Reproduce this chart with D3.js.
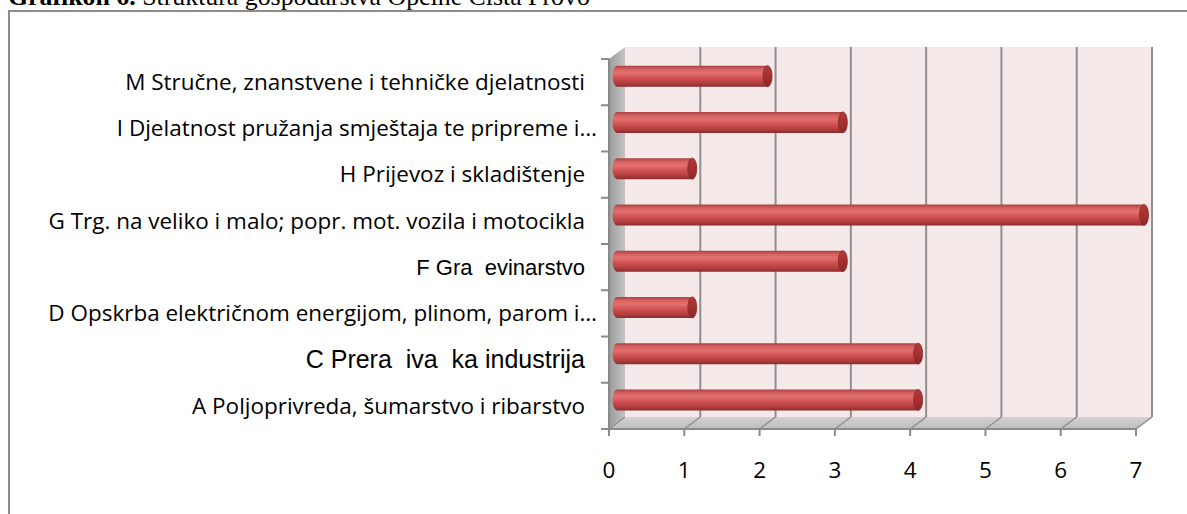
<!DOCTYPE html>
<html>
<head>
    <script src="https://d3js.org/d3.v7.min.js"></script>
    <style>
        body { margin: 0; background: #fff; }
        svg { display: block; }
        .cat { font-family: 'Open Sans', sans-serif; font-size: 21px; fill: #000; white-space: pre; }
        .cat.arial-f { font-family: 'Liberation Sans', Arial, sans-serif; font-size: 22px; }
        .cat.arial-c { font-family: 'Liberation Sans', Arial, sans-serif; font-size: 25px; }
        .tick-label { font-family: 'Open Sans', sans-serif; font-size: 21px; fill: #000; }
        .title { font-family: 'Liberation Serif', serif; font-size: 25px; fill: #000; }
    </style>
</head>
<body>
<svg id="chart" width="1187" height="514"></svg>
<script>
    // categories, top to bottom as drawn
    const categories = [
        "M Stručne, znanstvene i tehničke djelatnosti",
        "I Djelatnost pružanja smještaja te pripreme i…",
        "H Prijevoz i skladištenje",
        "G Trg. na veliko i malo; popr. mot. vozila i motocikla",
        "F Gra  evinarstvo",
        "D Opskrba električnom energijom, plinom, parom i…",
        "C Prera  iva  ka industrija",
        "A Poljoprivreda, šumarstvo i ribarstvo"
    ];
    const values = [2, 3, 1, 7, 3, 1, 4, 4];
    const xTicks = [0, 1, 2, 3, 4, 5, 6, 7];

    const svg = d3.select("#chart");
    const front = { left: 609, top: 59, bottom: 429 };
    const depth = { dx: 16, dy: -12 };

    const x = d3.scaleLinear().domain([0, 7]).range([front.left, front.left + 527]);
    const y = d3.scaleBand().domain(categories).range([front.top, front.bottom]);

    const defs = svg.append("defs");

    const barGrad = defs.append("linearGradient").attr("id", "barGrad")
        .attr("x1", 0).attr("y1", 0).attr("x2", 0).attr("y2", 1);
    [[0, "#a84040"], [0.18, "#d86262"], [0.35, "#e27070"], [0.6, "#cf5050"], [0.85, "#b03c3c"], [1, "#8a2c2c"]]
        .forEach(s => barGrad.append("stop").attr("offset", s[0]).attr("stop-color", s[1]));

    const capGrad = defs.append("linearGradient").attr("id", "capGrad")
        .attr("x1", 0).attr("y1", 0).attr("x2", 0).attr("y2", 1);
    [[0, "#b23a3a"], [0.5, "#a53030"], [1, "#8c2828"]]
        .forEach(s => capGrad.append("stop").attr("offset", s[0]).attr("stop-color", s[1]));

    const wallGrad = defs.append("linearGradient").attr("id", "wallGrad")
        .attr("x1", 0).attr("y1", 0).attr("x2", 1).attr("y2", 0);
    [[0, "#9c9c9c"], [1, "#c4c4c4"]]
        .forEach(s => wallGrad.append("stop").attr("offset", s[0]).attr("stop-color", s[1]));

    const floorGrad = defs.append("linearGradient").attr("id", "floorGrad")
        .attr("x1", 0).attr("y1", 0).attr("x2", 0).attr("y2", 1);
    [[0, "#d2d2d2"], [1, "#bdbdbd"]]
        .forEach(s => floorGrad.append("stop").attr("offset", s[0]).attr("stop-color", s[1]));

    // title (top half is cut off by the page edge, like in the scan)
    const title = svg.append("text").attr("class", "title").attr("x", 8).attr("y", 5);
    title.append("tspan").attr("font-weight", "bold").text("Grafikon 6.");
    title.append("tspan").text(" Struktura gospodarstva Općine Cista Provo");
    // stretch font so the title spans roughly the same width as the original
    const tw = title.node().getComputedTextLength();
    title.style("font-size", (25 * 582 / tw) + "px");

    // outer frame
    svg.append("rect")
        .attr("x", 9).attr("y", 11).attr("width", 1200).attr("height", 520)
        .attr("fill", "none").attr("stroke", "#8c8c8c").attr("stroke-width", 2);

    const x0 = x(0), x7 = x(7);
    const bx = v => x(v) + depth.dx;
    const plotTop = front.top, plotBot = front.bottom;

    // back wall
    svg.append("rect")
        .attr("x", bx(0)).attr("y", plotTop + depth.dy)
        .attr("width", bx(7) - bx(0)).attr("height", plotBot - plotTop)
        .attr("fill", "#f5e9e9");

    // left wall
    svg.append("polygon")
        .attr("points", [[x0, plotTop], [bx(0), plotTop + depth.dy], [bx(0), plotBot + depth.dy], [x0, plotBot]].join(" "))
        .attr("fill", "url(#wallGrad)");

    // floor
    svg.append("polygon")
        .attr("points", [[x0, plotBot], [bx(0), plotBot + depth.dy], [bx(7), plotBot + depth.dy], [x7, plotBot]].join(" "))
        .attr("fill", "url(#floorGrad)");

    // gridlines on back wall + floor diagonals
    svg.selectAll(".grid").data(xTicks.slice(1)).enter().append("line")
        .attr("x1", d => bx(d)).attr("x2", d => bx(d))
        .attr("y1", plotTop + depth.dy).attr("y2", plotBot + depth.dy)
        .attr("stroke", "#8f8f8f").attr("stroke-width", 2);
    svg.selectAll(".diag").data(xTicks).enter().append("line")
        .attr("x1", d => x(d)).attr("y1", plotBot)
        .attr("x2", d => bx(d)).attr("y2", plotBot + depth.dy)
        .attr("stroke", "#8f8f8f").attr("stroke-width", 1.5);

    // front axes
    svg.append("line").attr("x1", x0).attr("x2", x7).attr("y1", plotBot).attr("y2", plotBot)
        .attr("stroke", "#8a8a8a").attr("stroke-width", 2);
    svg.append("line").attr("x1", x0).attr("x2", x0).attr("y1", plotTop).attr("y2", plotBot)
        .attr("stroke", "#8a8a8a").attr("stroke-width", 2);
    svg.selectAll(".xt").data(xTicks).enter().append("line")
        .attr("x1", d => x(d)).attr("x2", d => x(d)).attr("y1", plotBot).attr("y2", plotBot + 7)
        .attr("stroke", "#8a8a8a").attr("stroke-width", 2);
    const yTicks = categories.map(c => y(c)).concat([plotBot]);
    svg.selectAll(".yt").data(yTicks).enter().append("line")
        .attr("x1", x0 - 8).attr("x2", x0).attr("y1", d => d).attr("y2", d => d)
        .attr("stroke", "#8a8a8a").attr("stroke-width", 2);

    // category labels (F and C came out in Arial in the original, glyphs missing)
    const labels = svg.selectAll(".cat").data(categories).enter().append("text")
        .attr("class", d => d.startsWith("F ") ? "cat arial-f" : d.startsWith("C ") ? "cat arial-c" : "cat")
        .attr("x", d => d.endsWith("…") ? 597 : 585)
        .attr("y", d => y(d) + y.bandwidth() / 2)
        .attr("dy", "0.35em")
        .attr("text-anchor", "end")
        .text(d => d);

    // size the Calibri-like labels so the longest one has the original width
    const gNode = labels.filter(d => d.startsWith("G ")).node();
    const catSize = 21 * 537 / gNode.getComputedTextLength();
    labels.filter(d => !d.startsWith("F ") && !d.startsWith("C ")).style("font-size", catSize + "px");

    // x tick labels
    svg.selectAll(".tick-label").data(xTicks).enter().append("text")
        .attr("class", "tick-label")
        .style("font-size", catSize + "px")
        .attr("x", d => x(d)).attr("y", 478)
        .attr("text-anchor", "middle")
        .text(d => d);

    // cylinders, sitting half way into the depth
    const barH = 21, rx = 4.5;
    const bars = svg.selectAll(".bar").data(categories).enter().append("g")
        .attr("transform", d => `translate(${depth.dx / 2},${y(d) + y.bandwidth() / 2 + depth.dy / 2})`);

    bars.append("path")
        .attr("d", (d, i) => {
            const a = x(0), b = x(values[i]), h = barH / 2;
            return `M${a},${-h} L${b},${-h} L${b},${h} L${a},${h} A${rx},${h} 0 0 1 ${a},${-h} Z`;
        })
        .attr("fill", "url(#barGrad)");

    bars.append("ellipse")
        .attr("cx", (d, i) => x(values[i])).attr("cy", 0)
        .attr("rx", rx).attr("ry", barH / 2)
        .attr("fill", "url(#capGrad)")
        .attr("stroke", "#8c2a2a").attr("stroke-width", 0.8);
</script>
</body>
</html>
